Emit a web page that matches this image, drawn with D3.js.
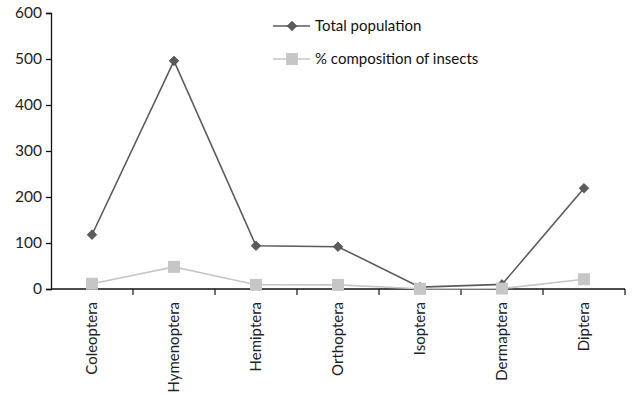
<!DOCTYPE html>
<html>
<head>
<meta charset="utf-8">
<script src="https://cdn.jsdelivr.net/npm/d3@7"></script>
<style>
  body { margin: 0; background: #fff; }
  text { font-family: Lato, "Open Sans", sans-serif; fill: #111; }
</style>
</head>
<body>
<div id="chart"></div>
<script>
// data
const orders = ["Coleoptera", "Hymenoptera", "Hemiptera", "Orthoptera", "Isoptera", "Dermaptera", "Diptera"];
const totalPopulation = [118, 496, 94, 92, 4, 10, 219];
const composition = [11.4, 48.1, 9.1, 8.9, 0.4, 1.0, 21.2];
const yTicks = [0, 100, 200, 300, 400, 500, 600];

const margin = { top: 13, right: 7, bottom: 105, left: 51 },
    width = 632 - margin.left - margin.right,
    height = 394 - margin.top - margin.bottom;

const svg = d3.select("#chart")
    .append("svg")
    .attr("width", 632)
    .attr("height", 394)
    .append("g")
    .attr("transform", `translate(${margin.left},${margin.top})`);

const x = d3.scaleBand()
    .domain(orders)
    .range([0, width]);

const y = d3.scaleLinear()
    .domain([0, 600])
    .range([height, 0]);

// y axis
const yAxis = svg.append("g")
    .call(d3.axisLeft(y).tickValues(yTicks).tickSize(5).tickPadding(4));
yAxis.selectAll("text").style("font-size", "15.5px").style("fill", "#222");
yAxis.selectAll("line, path").attr("stroke", "#111").attr("stroke-width", 1.3);

// x axis: ticks on band boundaries
const xAxis = svg.append("g")
    .attr("transform", `translate(0,${height})`);
xAxis.append("line")
    .attr("x1", 0).attr("x2", width)
    .attr("stroke", "#111").attr("stroke-width", 1.3);
xAxis.selectAll(".tk")
    .data(orders)
    .join("line")
    .attr("x1", d => x(d) + x.bandwidth())
    .attr("x2", d => x(d) + x.bandwidth())
    .attr("y1", 0).attr("y2", 6)
    .attr("stroke", "#111").attr("stroke-width", 1.2);
xAxis.selectAll(".lbl")
    .data(orders)
    .join("text")
    .attr("transform", d => `translate(${x(d) + x.bandwidth() / 2},13) rotate(-90)`)
    .attr("text-anchor", "end")
    .attr("dy", "0.35em")
    .style("font-size", "15px")
    .style("fill", "#222")
    .text(d => d);

const cx = i => x(orders[i]) + x.bandwidth() / 2;
const line = d3.line().x((d, i) => cx(i)).y(d => y(d));

const darkCol = "#5a5b5b";
const lightCol = "#c6c6c6";

// total population
svg.append("path")
    .datum(totalPopulation)
    .attr("fill", "none")
    .attr("stroke", darkCol)
    .attr("stroke-width", 1.6)
    .attr("d", line);

svg.selectAll(".dia")
    .data(totalPopulation)
    .join("path")
    .attr("d", d3.symbol(d3.symbolDiamond2, 60))
    .attr("transform", (d, i) => `translate(${cx(i)},${y(d)})`)
    .attr("fill", darkCol)
    .attr("stroke", "#3d3d3d")
    .attr("stroke-width", 0.6);

// % composition
svg.append("path")
    .datum(composition)
    .attr("fill", "none")
    .attr("stroke", lightCol)
    .attr("stroke-width", 1.6)
    .attr("d", line);

svg.selectAll(".sq")
    .data(composition)
    .join("rect")
    .attr("x", (d, i) => cx(i) - 6)
    .attr("y", d => y(d) - 6)
    .attr("width", 12)
    .attr("height", 12)
    .attr("fill", lightCol);

// legend
const legend = svg.append("g")
    .attr("transform", `translate(${273 - margin.left},${26 - margin.top})`);

legend.append("line")
    .attr("x1", 0).attr("x2", 37).attr("y1", 0).attr("y2", 0)
    .attr("stroke", darkCol).attr("stroke-width", 1.6);
legend.append("path")
    .attr("d", d3.symbol(d3.symbolDiamond2, 60))
    .attr("transform", "translate(19,0)")
    .attr("fill", darkCol)
    .attr("stroke", "#3d3d3d")
    .attr("stroke-width", 0.6);
legend.append("text")
    .attr("x", 42).attr("y", 0)
    .attr("dy", "0.35em")
    .style("font-size", "15px")
    .text("Total population");

legend.append("line")
    .attr("x1", 0).attr("x2", 37).attr("y1", 33).attr("y2", 33)
    .attr("stroke", lightCol).attr("stroke-width", 1.6);
legend.append("rect")
    .attr("x", 13).attr("y", 27)
    .attr("width", 12).attr("height", 12)
    .attr("fill", lightCol);
legend.append("text")
    .attr("x", 42).attr("y", 33)
    .attr("dy", "0.35em")
    .style("font-size", "15px")
    .text("% composition of insects");
</script>
</body>
</html>
